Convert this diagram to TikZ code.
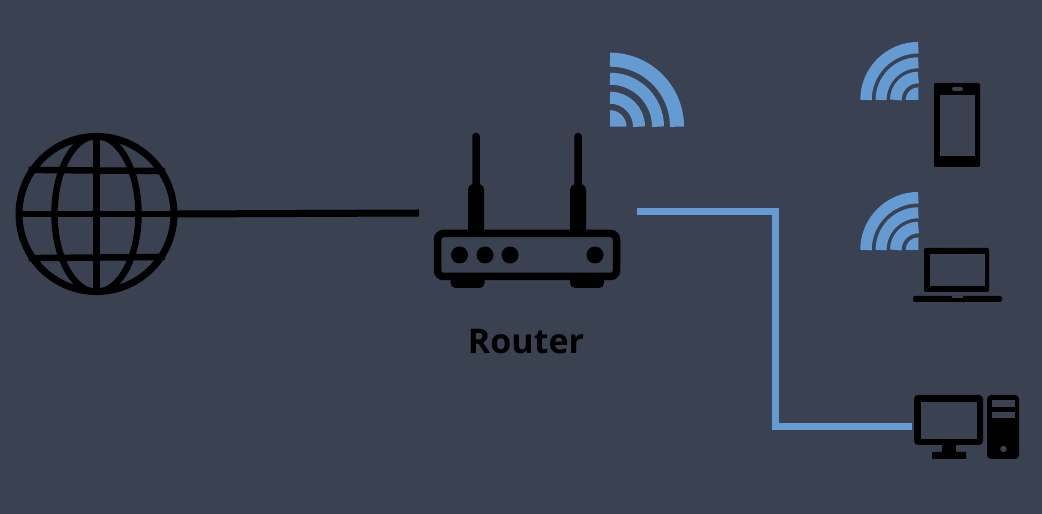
\documentclass[tikz,border=0pt]{standalone}
\usepackage{fontspec}
\setmainfont{Open Sans}
\usepackage{xcolor}
\usetikzlibrary{positioning}
\definecolor{slatebg}{HTML}{3A4151}
\definecolor{waveblue}{HTML}{659BD3}

\begin{document}
\begin{tikzpicture}[
  x=1pt, y=1pt,
  wire/.style={draw=black, line width=7pt},
  lan/.style={draw=waveblue, line width=7pt},
  wave/.style={draw=waveblue},
  solid/.style={fill=black, draw=none, rounded corners=2pt, inner sep=0pt, outer sep=0pt},
  hole/.style={fill=slatebg, draw=none, inner sep=0pt, outer sep=0pt},
  led/.style={circle, fill=black, minimum size=17pt, inner sep=0pt}
]
\fill[slatebg] (0,0) rectangle (1042,514);

% globe
\node[circle, draw=black, line width=7pt, minimum size=155pt, inner sep=0pt] (globe) at (96.5,300) {};
\draw[black, line width=6.5pt] (globe.center) ellipse (42pt and 78pt);
\draw[black, line width=6.5pt] (globe.north) -- (globe.south);
\draw[black, line width=6.5pt] (globe.west) -- (globe.east);
\draw[black, line width=6.5pt] (globe.32.6) -- (globe.147.4);
\draw[black, line width=6.5pt] (globe.-32.6) -- (globe.-147.4);

% router
\foreach \n/\x in {A/476, B/578}{
  \node[solid, minimum width=7.5pt, minimum height=70pt, rounded corners=3pt] (ant\n) at (\x,346) {};
  \node[solid, minimum width=16pt, minimum height=50pt, rounded corners=6pt] (mast\n) at (\x,305) {};
}
\foreach \n/\x in {A/467.5, B/587}{
  \node[solid, minimum width=34pt, minimum height=18pt, rounded corners=5pt] (foot\n) at (\x,235) {};
}
\node[draw=black, fill=slatebg, line width=7.5pt, rounded corners=6pt, minimum width=179pt,
      minimum height=43pt, inner sep=0pt] (router) at (527,259) {};
\foreach \n/\x in {1/459.5, 2/485, 3/510, 4/595}{
  \node[led] (led\n) at (\x,259) {};
}
\node[font=\fontsize{34}{36}\selectfont\bfseries, text=black, inner sep=0pt] (label) at (526,172) {Router};

% router wifi
\coordinate (waveR) at (610,387.3);
\foreach \r/\w in {67/14, 48/12, 29/12}{
  \draw[wave, line width=\w pt] ([shift={(\r,0)}]waveR) arc (0:90:\r pt);
}
\fill[waveblue] (waveR) -- ++(16.5,0) arc (0:90:16.5pt) -- cycle;

% phone
\node[solid, minimum width=46pt, minimum height=84pt] (phone) at (957,389) {};
\node[hole, minimum width=35pt, minimum height=61pt] (phoneScreen) at (957.5,388.5) {};
\node[hole, minimum width=11pt, minimum height=4pt, rounded corners=2pt] (phoneSpeaker) at (957.5,425) {};

% laptop
\node[solid, minimum width=65pt, minimum height=44pt] (laptop) at (956.5,244) {};
\node[hole, minimum width=55pt, minimum height=32pt] (laptopScreen) at (957.5,244) {};
\node[solid, minimum width=89pt, minimum height=6pt] (laptopBase) at (957.5,215) {};
\node[hole, minimum width=11pt, minimum height=2pt, anchor=north] (laptopNotch) at (laptopBase.north) {};

% device wifi
\foreach \n/\y in {P/414, L/264}{
  \coordinate (wave\n) at (918.3,\y);
  \foreach \r/\w in {52.3/11.5, 37.2/11, 22.5/11.6}{
    \draw[wave, line width=\w pt] ([shift={(0,\r)}]wave\n) arc (90:180:\r pt);
  }
  \fill[waveblue] (wave\n) -- ++(0,12.7) arc (90:180:12.7pt) -- cycle;
}

% desktop
\node[solid, minimum width=69pt, minimum height=50pt, rounded corners=4pt] (monitor) at (948.5,94) {};
\node[hole, minimum width=56pt, minimum height=37pt] (monitorScreen) at (949,93.5) {};
\node[solid, minimum width=14pt, minimum height=8pt, rounded corners=0pt] (neck) at (949,65) {};
\node[solid, minimum width=34pt, minimum height=7pt, rounded corners=0.5pt] (stand) at (949,58.5) {};
\node[solid, minimum width=32pt, minimum height=64pt, rounded corners=4pt] (tower) at (1003,87) {};
\foreach \n/\y in {A/110.5, B/99}{
  \node[hole, minimum width=23pt, minimum height=6.5pt] (slot\n) at (1003.5,\y) {};
}
\node[hole, circle, minimum size=6.5pt] (towerDot) at (1003.5,65) {};

% links
\coordinate (wanEnd) at (419,301);
\coordinate (lanStart) at (637,302);
\coordinate (lanDrop) at (775,87);
\draw[wire] (globe.east) -- (wanEnd);
\draw[lan] (lanStart) -| (lanDrop) -- ([xshift=-2pt]lanDrop -| monitor.west);
\end{tikzpicture}
\end{document}
